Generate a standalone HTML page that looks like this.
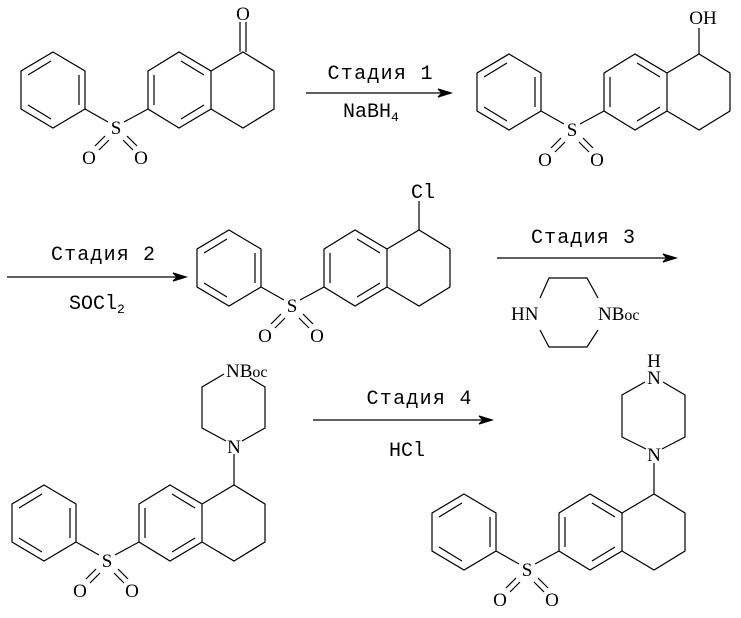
<!DOCTYPE html>
<html><head><meta charset="utf-8"><style>
html,body{margin:0;padding:0;background:#fff}
svg{display:block}
.m{font-family:"Liberation Mono",monospace;font-size:20px;fill:#000}
.a{font-family:"Liberation Serif",serif;font-size:19px;fill:#000}
line,polyline,polygon{stroke:#000;stroke-width:1.2;fill:none}
</style></head><body>
<svg width="741" height="618" viewBox="0 0 741 618" xmlns="http://www.w3.org/2000/svg">
<defs>
<g id="core">
<polygon points="53,52 85,71 85,109 53,128 21,109 21,71"/>
<line x1="28" y1="75" x2="51" y2="61"/><line x1="79" y1="75" x2="79" y2="105"/><line x1="28" y1="105" x2="51" y2="119"/>
<line x1="85" y1="109" x2="108" y2="122"/><line x1="148" y1="109" x2="124" y2="122"/>
<text x="116" y="134" text-anchor="middle" class="a">S</text>
<line x1="95" y1="146" x2="105" y2="136"/><line x1="99" y1="150" x2="109" y2="140"/>
<line x1="127" y1="136" x2="137" y2="146"/><line x1="123" y1="140" x2="133" y2="150"/>
<text x="89" y="164" text-anchor="middle" class="a">O</text>
<text x="141" y="164" text-anchor="middle" class="a">O</text>
<polygon points="148,71 179,52 211,71 211,109 179,128 148,109"/>
<line x1="181" y1="61" x2="204" y2="75"/><line x1="154" y1="75" x2="154" y2="105"/><line x1="181" y1="119" x2="204" y2="105"/>
<polyline points="211,71 243,52 274,71 274,109 243,128 211,109"/>
</g>
</defs>
<use href="#core"/>
<line x1="240" y1="52" x2="240" y2="22"/><line x1="246" y1="52" x2="246" y2="22"/>
<text x="243" y="20" text-anchor="middle" class="a">O</text>
<line x1="306" y1="93" x2="442" y2="93"/><polygon points="451,93 438,89 442,93 438,97" style="fill:#000"/>
<text x="380" y="79" text-anchor="middle" class="m" textLength="105">Стадия 1</text>
<text x="343" y="117" class="m">NaBH<tspan font-size="13" dy="4">4</tspan></text>
<g transform="translate(456,2)"><use href="#core"/>
<line x1="243" y1="52" x2="243" y2="26"/>
<text x="247" y="22" text-anchor="middle" class="a">OH</text></g>
<line x1="7" y1="277" x2="178" y2="277"/><polygon points="186,277 173,273 177,277 173,281" style="fill:#000"/>
<text x="103" y="260" text-anchor="middle" class="m" textLength="104">Стадия 2</text>
<text x="69" y="309" class="m">SOCl<tspan font-size="13" dy="4">2</tspan></text>
<g transform="translate(176,178)"><use href="#core"/>
<line x1="243" y1="52" x2="243" y2="23"/>
<text x="247" y="20" text-anchor="middle" class="m">Cl</text></g>
<line x1="497" y1="258" x2="668" y2="258"/><polygon points="676,258 663,254 667,258 663,262" style="fill:#000"/>
<text x="583" y="243" text-anchor="middle" class="m" textLength="104">Стадия 3</text>
<polyline points="540,298 549,278 587,278 598,298"/>
<polyline points="540,330 549,347 587,347 598,330"/>
<text x="511" y="320" class="a">HN</text>
<text x="598" y="320" class="a">NB<tspan font-size="16">oc</tspan></text>
<g transform="translate(-9,433)"><use href="#core"/></g>
<line x1="234" y1="485" x2="234" y2="454"/>
<text x="234" y="453" text-anchor="middle" class="a">N</text>
<polyline points="226,441 202,428 202,387 224,374"/>
<polyline points="250,378 265,387 265,428 242,441"/>
<text x="226" y="377" class="a">NB<tspan font-size="16">oc</tspan></text>
<line x1="313" y1="420" x2="484" y2="420"/><polygon points="492,420 479,416 483,420 479,424" style="fill:#000"/>
<text x="419" y="404" text-anchor="middle" class="m" textLength="105">Стадия 4</text>
<text x="407" y="456" text-anchor="middle" class="m">HCl</text>
<g transform="translate(411,442)"><use href="#core"/></g>
<line x1="654" y1="494" x2="654" y2="463"/>
<text x="654" y="461" text-anchor="middle" class="a">N</text>
<polyline points="646,449 622,437 622,395 645,382"/>
<polyline points="663,382 685,395 685,437 662,449"/>
<text x="654" y="384" text-anchor="middle" class="a">N</text>
<text x="654" y="367" text-anchor="middle" class="a">H</text>
</svg>
</body></html>
